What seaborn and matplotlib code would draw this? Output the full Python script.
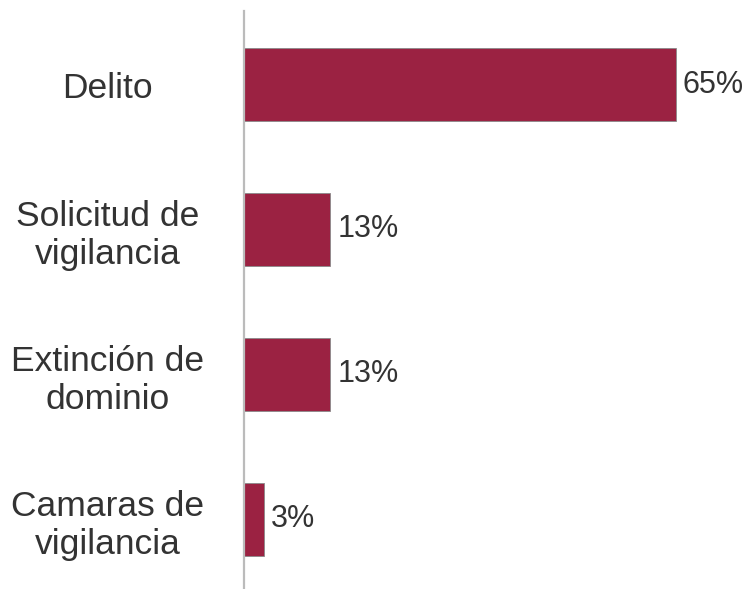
import matplotlib
matplotlib.use("Agg")
import matplotlib.pyplot as plt
import seaborn as sns
import pandas as pd

categories = ["Delito", "Solicitud de\nvigilancia", "Extinción de\ndominio", "Camaras de\nvigilancia"]
values = [65, 13, 13, 3]
value_labels = ["65%", "13%", "13%", "3%"]

sns.set_theme(style="white")
plt.rcParams["font.family"] = ["Liberation Sans", "DejaVu Sans"]

df = pd.DataFrame({"categoria": categories, "valor": values})

fig = plt.figure(figsize=(7.49, 5.89), dpi=100)
ax = fig.add_axes([244 / 749, 0.0, 505 / 749, 578 / 589])

sns.barplot(data=df, x="valor", y="categoria", orient="h", color="#9B2242",
            saturation=1, width=0.5, edgecolor="#8a8a8a", linewidth=0.6, ax=ax)

ax.set_xlim(0, 76)
ax.set_ylim(3.48, -0.507)
ax.set_xlabel("")
ax.set_ylabel("")
ax.set_xticks([])

for side in ["top", "right", "bottom"]:
    ax.spines[side].set_visible(False)
ax.spines["left"].set_color("#BBBBBB")
ax.spines["left"].set_linewidth(1.6)

ax.tick_params(axis="y", length=0, pad=98, labelsize=25.5, labelcolor="#333333")
for lab in ax.get_yticklabels():
    lab.set_horizontalalignment("center")
    lab.set_multialignment("center")
    lab.set_linespacing(1.18)

for i, (v, t) in enumerate(zip(values, value_labels)):
    ax.annotate(t, xy=(v, i), xytext=(5, 0), textcoords="offset points",
                ha="left", va="center", fontsize=22, color="#333333")

fig.savefig("out.png", dpi=100, facecolor="white")
